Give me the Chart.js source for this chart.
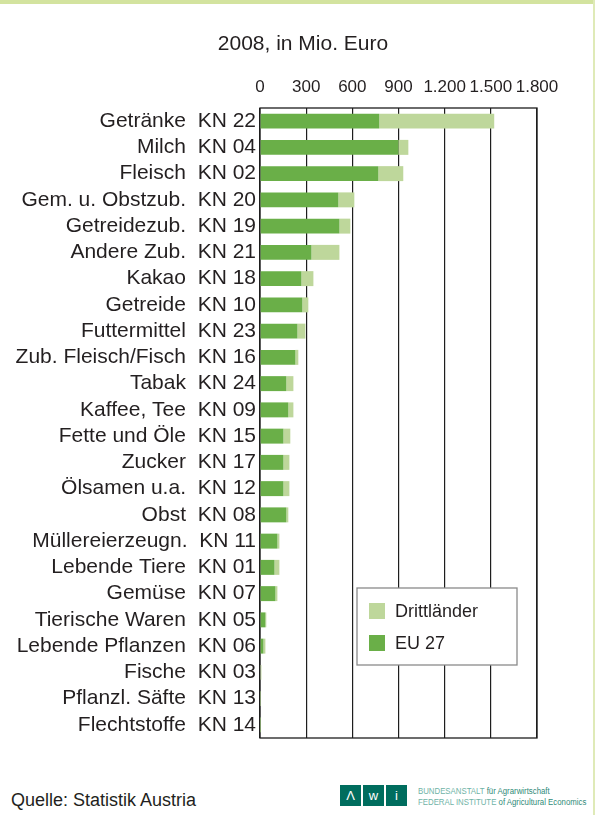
<!DOCTYPE html>
<html>
<head>
<meta charset="utf-8">
<script src="https://cdn.jsdelivr.net/npm/chart.js@4.4.0/dist/chart.umd.min.js"></script>
<style>
body{margin:0;background:#fff;font-family:"Liberation Sans",Arial,sans-serif;color:#231f20}
#page{position:relative;width:595px;height:815px;overflow:hidden;background:#fff}
#topbar{position:absolute;left:0;top:0;width:595px;height:4px;background:#d3e39f}
#rightbar{position:absolute;right:0;top:0;width:2px;height:815px;background:#dfeab8}
#chartbox{position:absolute;left:0;top:0;width:595px;height:760px}
#source{position:absolute;left:11px;top:789px;font-size:18px;line-height:22px}
#logo{position:absolute;left:340px;top:785px;display:flex;gap:2px}
#logo span{display:block;width:21px;height:21px;background:#006d5e;color:#fff;font-size:13px;line-height:21px;text-align:center}
#logotext{position:absolute;left:418px;top:786px;font-size:8.5px;line-height:11px;color:#2f8a78;white-space:nowrap;transform:scaleX(0.92);transform-origin:left top}
#logotext b{font-weight:normal;color:#6fb3a6}
</style>
</head>
<body>
<div id="page">
  <div id="topbar"></div>
  <div id="rightbar"></div>
  <div id="chartbox"><canvas id="barC"></canvas></div>
  <div id="source">Quelle: Statistik Austria</div>
  <div id="logo"><span>&#923;</span><span>w</span><span>i</span></div>
  <div id="logotext"><b>BUNDESANSTALT</b> für Agrarwirtschaft<br><b>FEDERAL INSTITUTE</b> of Agricultural Economics</div>
</div>
<script>
const categories=["Getränke","Milch","Fleisch","Gem. u. Obstzub.","Getreidezub.","Andere Zub.","Kakao","Getreide","Futtermittel","Zub. Fleisch/Fisch","Tabak","Kaffee, Tee","Fette und Öle","Zucker","Ölsamen u.a.","Obst","Müllereierzeugn.","Lebende Tiere","Gemüse","Tierische Waren","Lebende Pflanzen","Fische","Pflanzl. Säfte","Flechtstoffe"];
const knCodes=["22","04","02","20","19","21","18","10","23","16","24","09","15","17","12","08","11","01","07","05","06","03","13","14"];
const eu27=[775,899,769,509,516,334,269,275,243,230,171,184,152,152,152,171,113,94,100,35,22,4,3,2];
const drittlaender=[747,65,162,104,71,182,78,39,52,19,46,33,45,39,39,13,13,32,13,6,13,5,3,3];
const tickLabels=["0","300","600","900","1.200","1.500","1.800"];

const textColor="#231f20";
const fontFam='"Liberation Sans", Arial, sans-serif';

// frame round the plot area
const framePlugin={
    id:"frame",
    beforeDatasetsDraw(chart){
        const a=chart.chartArea, c=chart.ctx;
        c.save();
        c.strokeStyle="#1e1e1e";
        c.lineWidth=1.3;
        c.strokeRect(a.left,a.top,a.right-a.left,a.bottom-a.top);
        c.restore();
    }
};

// title sits a bit right of the canvas centre, so draw it here
const topTitle={
    id:"topTitle",
    afterDraw(chart,args,opts){
        const c=chart.ctx;
        c.save();
        c.font="21px "+fontFam;
        c.fillStyle=textColor;
        c.textAlign="center";
        c.textBaseline="middle";
        c.fillText(opts.text,opts.x,opts.y);
        c.restore();
    }
};

// boxed legend inside the plot, Drittländer on top
const boxLegend={
    id:"boxLegend",
    afterDraw(chart,args,opts){
        const c=chart.ctx;
        c.save();
        c.fillStyle="#fff";
        c.fillRect(opts.x,opts.y,opts.w,opts.h);
        c.strokeStyle="#8a8a8a";
        c.lineWidth=1.3;
        c.strokeRect(opts.x,opts.y,opts.w,opts.h);
        const ds=chart.data.datasets.slice().reverse();
        c.font="18px "+fontFam;
        c.textBaseline="middle";
        ds.forEach((d,i)=>{
            const y=opts.y+15+i*32;
            c.fillStyle=d.backgroundColor;
            c.fillRect(opts.x+12,y,16,16);
            c.fillStyle=textColor;
            c.fillText(d.label,opts.x+38,y+9);
        });
        c.restore();
    }
};

const labels=categories.map((n,i)=>n+"  KN "+knCodes[i]);

new Chart(document.getElementById("barC"),{
    type:"bar",
    data:{
        labels:labels,
        datasets:[
            {label:"EU 27",data:eu27,backgroundColor:"#6aaf48",barPercentage:0.57,categoryPercentage:1},
            {label:"Drittländer",data:drittlaender,backgroundColor:"#bed79b",barPercentage:0.57,categoryPercentage:1}
        ]
    },
    plugins:[framePlugin,topTitle,boxLegend],
    options:{
        indexAxis:"y",
        responsive:true,
        maintainAspectRatio:false,
        animation:false,
        layout:{padding:{left:0,right:58,top:0,bottom:22}},
        plugins:{
            legend:{display:false},
            tooltip:{enabled:false},
            topTitle:{text:"2008, in Mio. Euro",x:303,y:44},
            boxLegend:{x:357,y:588,w:160,h:77}
        },
        scales:{
            x:{
                position:"top",
                stacked:true,
                min:0,max:1800,
                afterFit(s){s.height=108;},
                border:{display:false},
                grid:{color:"#1e1e1e",lineWidth:1.2,drawTicks:false},
                ticks:{
                    stepSize:300,
                    padding:10,
                    autoSkip:false,
                    color:textColor,
                    font:{family:fontFam,size:17},
                    maxRotation:0,
                    callback:(v,i)=>tickLabels[i]
                }
            },
            y:{
                stacked:true,
                afterFit(s){s.width=260;},
                border:{display:false},
                grid:{display:false,drawTicks:false},
                ticks:{
                    padding:4,
                    color:textColor,
                    autoSkip:false,
                    font:{family:fontFam,size:21}
                }
            }
        }
    }
});
</script>
</body>
</html>
